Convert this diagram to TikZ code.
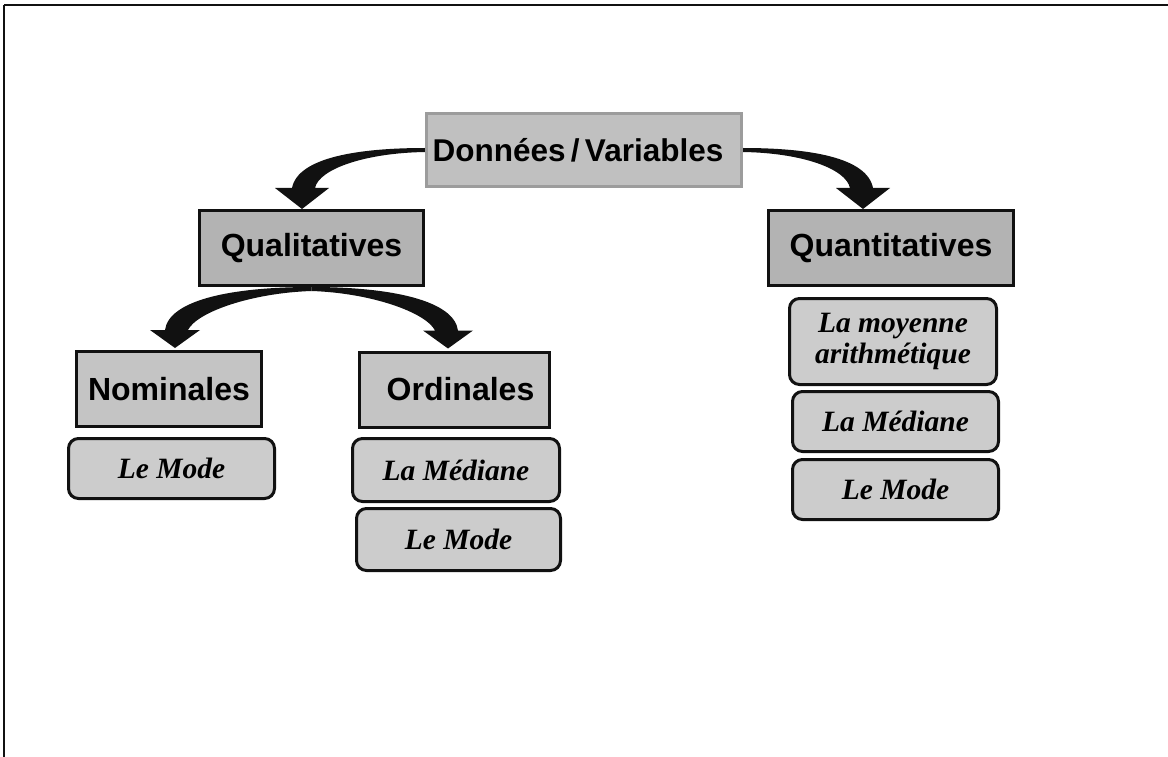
\documentclass[tikz,border=0pt]{standalone}
\usepackage{fontspec}
\setmainfont{Liberation Serif}
\setsansfont{Liberation Sans}
\usetikzlibrary{calc,backgrounds}
\definecolor{dvfill}{HTML}{C0C0C0}
\definecolor{dvline}{HTML}{9C9C9C}
\definecolor{catfill}{HTML}{B3B3B3}
\definecolor{subfill}{HTML}{C4C4C4}
\definecolor{leaffill}{HTML}{CCCCCC}
\definecolor{ink}{HTML}{111111}
\begin{document}
\begin{tikzpicture}[x=1pt,y=-1pt,
  rootbox/.style={draw=dvline,fill=dvfill,line width=3pt,inner sep=0pt,
    font=\sffamily\bfseries\fontsize{31.5}{36}\selectfont},
  catbox/.style={draw=ink,fill=catfill,line width=3pt,inner sep=0pt,
    minimum height=75pt,font=\sffamily\bfseries\fontsize{32}{36}\selectfont},
  subbox/.style={draw=ink,fill=subfill,line width=3pt,inner sep=0pt,
    minimum height=75pt,font=\sffamily\bfseries\fontsize{32}{36}\selectfont},
  leafbox/.style={draw=ink,fill=leaffill,line width=3pt,inner sep=0pt,
    rounded corners=10pt,align=center,
    font=\rmfamily\bfseries\itshape\fontsize{29.5}{31}\selectfont},
  bigarrow/.style={fill=ink,draw=none}
]
\useasboundingbox (0,0) rectangle (1168,757);
% frame
\draw[line width=2.5pt,ink] (4,5) -- (1168,5);
\draw[line width=2.5pt,ink] (4,5) -- (4,757);

% nodes
\node[rootbox,minimum width=315pt,minimum height=73pt] (dv) at (584,150) {Données\,/\,Variables\hspace*{12pt}};
\node[catbox,minimum width=224pt] (qual) at (311.5,248) {Qualitatives};
\node[catbox,minimum width=245pt] (quant) at (891,248) {Quantitatives};
\node[subbox,minimum width=185pt] (nom) at (169,389) {Nominales};
\node[subbox,minimum width=190pt] (ord) at (454.5,389.5) {\hspace*{12pt}Ordinales};
\node[leafbox,minimum width=206pt,minimum height=60pt] (nommode) at (171.5,468.5) {Le Mode};
\node[leafbox,minimum width=207pt,minimum height=63pt] (ordmed) at (456,470) {La Médiane};
\node[leafbox,minimum width=204pt,minimum height=62pt] (ordmode) at (458.5,539.5) {Le Mode};
\node[leafbox,minimum width=207pt,minimum height=86pt] (qmoy) at (893,341.5) {La moyenne\\arithmétique};
\node[leafbox,minimum width=206pt,minimum height=60pt] (qmed) at (895.5,421.5) {La Médiane};
\node[leafbox,minimum width=206pt,minimum height=60pt] (qmode) at (895.5,489.5) {Le Mode};

% arrows
\coordinate (S1) at (dv.west);
\coordinate (T1) at ($(qual.north)+(-9.5,0)$);
\coordinate (S2) at (dv.east);
\coordinate (T2) at ($(quant.north)+(-28,0)$);
\coordinate (S3) at (qual.south);
\coordinate (T3) at ($(nom.north)+(6,-2)$);
\coordinate (T4) at ($(ord.north)+(-6.5,-2)$);
\begin{scope}[on background layer]
\fill[bigarrow] ($(S1)+(0,-2)$) .. controls ($(S1)+(-65,-2)$) and ($(T1)+(-4,-52)$) .. ($(T1)+(-10,-21)$)
  -- ($(T1)+(-27,-21)$) -- (T1) -- ($(T1)+(27,-21)$) -- ($(T1)+(13,-21)$)
  .. controls ($(T1)+(17,-40)$) and ($(S1)+(-60,3)$) .. ($(S1)+(0,2)$) -- cycle;
\fill[bigarrow] ($(S2)+(0,-2)$) .. controls ($(S2)+(65,-2)$) and ($(T2)+(4,-52)$) .. ($(T2)+(10,-21)$)
  -- ($(T2)+(27,-21)$) -- (T2) -- ($(T2)+(-27,-21)$) -- ($(T2)+(-13,-21)$)
  .. controls ($(T2)+(-17,-40)$) and ($(S2)+(60,3)$) .. ($(S2)+(0,2)$) -- cycle;
\fill[bigarrow] ($(S3)+(0,0)$) .. controls ($(S3)+(-80,0)$) and ($(T3)+(-6,-48)$) .. ($(T3)+(-10,-18)$)
  -- ($(T3)+(-25,-18)$) -- (T3) -- ($(T3)+(25,-18)$) -- ($(T3)+(13,-18)$)
  .. controls ($(T3)+(22,-36)$) and ($(S3)+(-60,6)$) .. ($(S3)+(0,4)$) -- cycle;
\fill[bigarrow] ($(S3)+(0,0)$) .. controls ($(S3)+(80,0)$) and ($(T4)+(6,-48)$) .. ($(T4)+(10,-18)$)
  -- ($(T4)+(25,-18)$) -- (T4) -- ($(T4)+(-25,-18)$) -- ($(T4)+(-13,-18)$)
  .. controls ($(T4)+(-22,-36)$) and ($(S3)+(60,6)$) .. ($(S3)+(0,4)$) -- cycle;
\end{scope}
\end{tikzpicture}
\end{document}
